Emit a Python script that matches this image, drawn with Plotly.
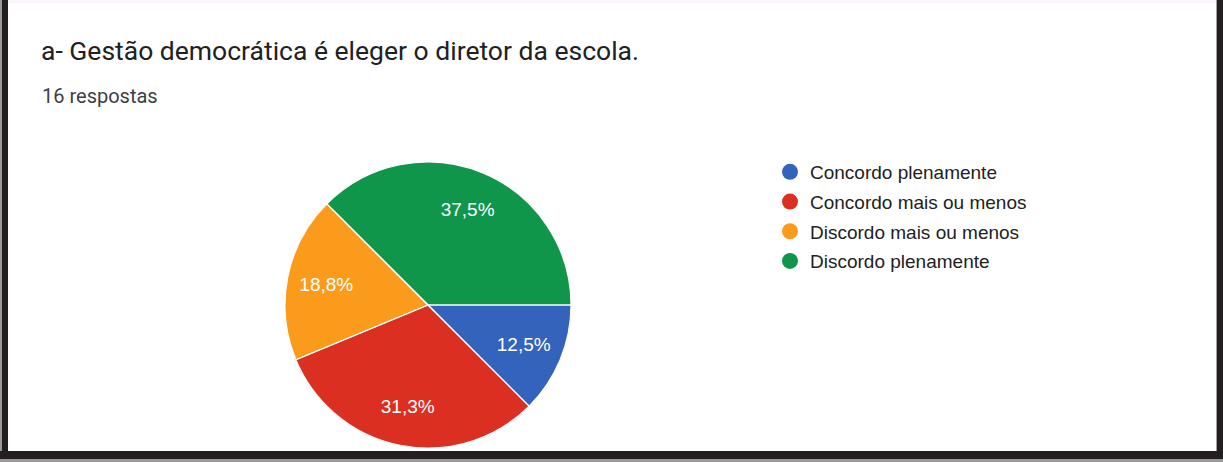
"""Google Forms style pie chart — one survey question, answer shares."""

import plotly.graph_objects as go

W, H = 1223, 462

QUESTION = "a- Gestão democrática é eleger o diretor da escola."
SUBTITLE = "16 respostas"
LABELS = [
    "Concordo plenamente",
    "Concordo mais ou menos",
    "Discordo mais ou menos",
    "Discordo plenamente",
]
COUNTS = [2, 5, 3, 6]
COLORS = ["#3463bb", "#db2f22", "#fb9b1c", "#10964a"]

FONT = "Roboto, Arial, sans-serif"


def px_x(x):
    return x / W


def px_y(y):
    return 1 - y / H


# pie centre ~ (428, 305) px, radius ~143 px
PIE_DOMAIN = dict(x=[px_x(285), px_x(571)], y=[px_y(448), px_y(162)])
PIE_COMMON = dict(
    labels=LABELS,
    values=COUNTS,
    sort=False,
    direction="clockwise",
    rotation=90,
    showlegend=False,
    domain=PIE_DOMAIN,
)

fig = go.Figure()

# full disc underneath, no labels
fig.add_trace(
    go.Pie(
        **PIE_COMMON,
        marker=dict(colors=COLORS, line=dict(width=0)),
        textinfo="none",
        hoverinfo="skip",
    )
)
# ring on top so the % labels sit further out, like Google Charts
fig.add_trace(
    go.Pie(
        **PIE_COMMON,
        hole=0.45,
        marker=dict(colors=COLORS, line=dict(width=0)),
        texttemplate="%{percent:.1%}",
        textposition="inside",
        insidetextorientation="horizontal",
        textfont=dict(family="Arial, sans-serif", size=19, color="white"),
        hoverinfo="skip",
    )
)
# transparent disc on top: only the white slice separators
fig.add_trace(
    go.Pie(
        **PIE_COMMON,
        marker=dict(colors=["rgba(0,0,0,0)"] * len(COUNTS),
                    line=dict(color="white", width=1.2)),
        textinfo="none",
        hoverinfo="label+value+percent",
    )
)

# round legend markers, like the Forms legend
for i, (lab, col) in enumerate(zip(LABELS, COLORS)):
    fig.add_trace(
        go.Scatter(
            x=[None],
            y=[None],
            mode="markers",
            name=lab,
            legendgroup=f"g{i}",
            marker=dict(symbol="circle", size=16, color=col),
            showlegend=True,
        )
    )

fig.update_xaxes(visible=False)
fig.update_yaxes(visible=False)

shapes = [
    # faint band at the top of the card
    dict(type="rect", xref="paper", yref="paper", x0=0, x1=1, y0=px_y(3), y1=1,
         fillcolor="#fcf4fc", line_width=0, layer="below"),
    # dark frame: left, right, bottom
    dict(type="rect", xref="paper", yref="paper", x0=0, x1=px_x(2), y0=0, y1=1,
         fillcolor="#9a9a9a", line_width=0),
    dict(type="rect", xref="paper", yref="paper", x0=px_x(2), x1=px_x(8), y0=0, y1=1,
         fillcolor="#231f20", line_width=0),
    dict(type="rect", xref="paper", yref="paper", x0=px_x(1216), x1=px_x(1217), y0=0, y1=1,
         fillcolor="#a0a0a0", line_width=0),
    dict(type="rect", xref="paper", yref="paper", x0=px_x(1217), x1=1, y0=0, y1=1,
         fillcolor="#231f20", line_width=0),
    dict(type="rect", xref="paper", yref="paper", x0=0, x1=1, y0=px_y(451), y1=px_y(459),
         fillcolor="#231f20", line_width=0),
    dict(type="rect", xref="paper", yref="paper", x0=0, x1=1, y0=0, y1=px_y(459),
         fillcolor="#9a9a9a", line_width=0),
]

annotations = [
    dict(text=QUESTION, xref="paper", yref="paper", x=px_x(39), y=px_y(51),
         xanchor="left", yanchor="middle", showarrow=False,
         font=dict(family=FONT, size=26.5, color="#202124")),
    dict(text=SUBTITLE, xref="paper", yref="paper", x=px_x(40), y=px_y(96),
         xanchor="left", yanchor="middle", showarrow=False,
         font=dict(family=FONT, size=20, color="#3c4043")),
]

fig.update_layout(
    width=W,
    height=H,
    margin=dict(l=0, r=0, t=0, b=0),
    paper_bgcolor="white",
    plot_bgcolor="white",
    separators=",.",
    shapes=shapes,
    annotations=annotations,
    legend=dict(
        x=px_x(770),
        y=px_y(153),
        xanchor="left",
        yanchor="top",
        font=dict(family="Arial, sans-serif", size=19, color="#222222"),
        tracegroupgap=2,
        itemwidth=30,
        bgcolor="rgba(0,0,0,0)",
    ),
)

fig.write_html(
    "out.html",
    config={"displayModeBar": False},
    post_script="document.body.style.margin='0';",
)
